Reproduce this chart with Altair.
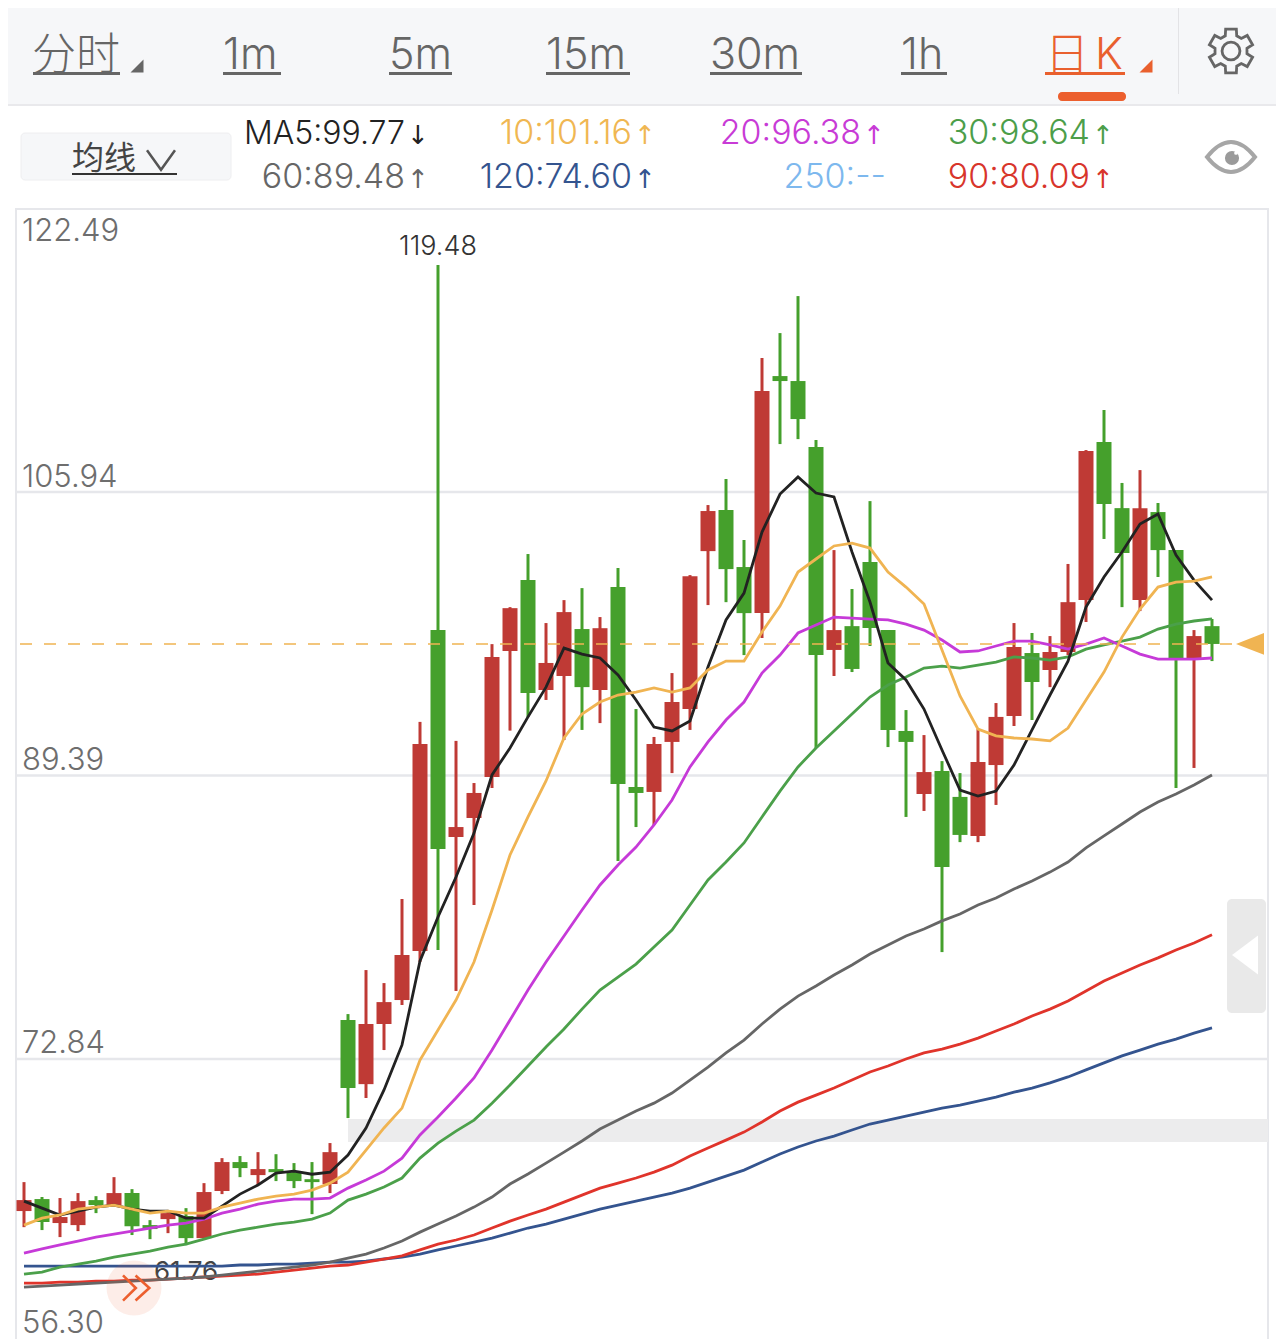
import math
import altair as alt
import pandas as pd

# ---------- values ----------
HIGH = [65.65,64.78,64.72,65.01,64.83,65.94,65.24,63.43,64.02,64.13,65.59,67.05,67.17,67.40,67.28,66.76,66.82,67.93,75.46,78.03,77.27,82.18,92.52,119.19,91.41,88.95,97.06,99.22,102.32,98.29,99.63,100.33,98.64,101.50,93.27,91.64,95.37,101.09,105.18,106.70,103.14,113.76,115.22,117.38,108.98,102.55,100.28,105.41,97.88,93.21,91.75,90.23,89.53,92.10,93.62,98.29,97.71,97.53,101.74,108.39,110.73,106.47,107.22,105.30,102.55,97.88,98.53]
LOW = [63.02,62.85,62.44,62.79,63.84,64.31,62.56,62.32,62.67,61.97,62.38,64.95,65.94,65.48,65.71,65.30,63.78,65.01,69.39,70.56,73.36,75.99,78.50,79.20,76.81,81.83,88.66,92.01,92.80,93.80,91.46,92.05,92.45,84.40,86.38,86.50,89.53,92.05,99.34,99.51,96.42,97.42,108.74,109.03,91.00,95.20,95.43,96.95,91.05,86.97,87.32,79.08,85.50,85.50,87.67,92.28,92.63,94.55,96.42,98.35,103.20,99.22,98.99,100.98,88.66,89.83,96.07]
BODY_TOP = [64.60,64.66,63.61,64.54,64.60,65.01,65.01,63.14,63.84,63.67,65.07,66.82,66.82,66.41,66.41,66.23,65.82,67.40,75.11,74.88,76.16,78.91,91.23,97.88,86.38,88.37,96.31,99.16,100.80,95.96,98.93,97.94,97.99,100.39,88.72,91.23,93.68,101.03,104.83,104.89,101.56,111.84,112.71,112.42,108.57,97.88,98.11,101.85,97.88,91.99,89.59,89.65,88.14,90.18,92.81,96.89,96.54,96.60,99.51,108.33,108.86,105.00,105.00,104.77,102.55,97.53,98.11]
BODY_BOTTOM = [63.96,63.32,63.26,63.14,64.31,64.31,63.08,62.91,63.49,62.38,62.38,65.13,66.47,66.06,66.23,65.71,65.65,65.54,71.14,71.37,74.88,76.28,79.14,85.10,85.80,86.91,89.30,96.66,94.21,94.38,95.20,94.55,94.38,88.89,88.37,88.43,91.35,93.27,102.49,101.44,98.87,98.87,112.42,110.20,96.42,96.72,95.61,98.00,92.05,91.35,88.31,84.05,85.92,85.86,90.00,92.86,94.85,95.55,96.60,99.63,105.24,102.38,99.63,102.55,96.25,96.25,97.07]
DOWN_DAYS = [1,4,6,7,9,12,14,15,16,18,23,28,31,33,34,39,40,42,43,44,46,47,48,49,51,52,56,60,61,63,64,66]

MA5 = [64.54,64.13,63.73,63.96,64.19,64.31,64.07,63.96,63.96,63.55,63.55,64.25,64.95,65.48,66.18,66.29,66.11,66.23,67.23,68.81,71.03,73.66,78.56,81.13,83.46,86.03,89.42,91.00,92.81,94.55,96.83,96.48,96.25,95.26,93.80,92.22,91.99,92.57,95.72,98.47,100.04,103.60,105.82,106.82,105.88,105.65,102.44,99.52,95.96,94.97,93.27,90.88,88.54,88.19,88.48,90.00,92.05,94.09,96.07,99.22,100.98,102.44,104.07,104.66,102.26,100.80,99.63]
MA10 = [63.14,63.55,63.73,64.07,64.19,64.31,64.07,63.84,63.96,63.84,63.84,64.19,64.42,64.66,64.83,64.95,65.18,65.59,66.23,67.52,68.81,69.97,72.78,74.53,76.28,78.50,81.54,84.75,86.97,89.07,91.58,92.98,93.68,94.09,94.26,94.50,94.26,94.50,95.55,96.07,96.07,97.77,99.28,101.27,102.03,102.79,102.96,102.67,101.27,100.39,99.40,96.72,94.03,92.10,91.70,91.58,91.52,91.41,92.16,93.80,95.43,97.47,99.11,100.39,100.68,100.74,100.98]
MA20 = [61.51,61.75,61.98,62.21,62.44,62.62,62.79,62.97,63.14,63.26,63.49,63.84,64.07,64.37,64.54,64.66,64.66,64.72,65.30,65.77,66.29,67.05,68.40,69.45,70.56,71.73,73.36,75.11,76.86,78.50,80.02,81.54,83.00,84.16,85.21,86.50,87.96,89.89,91.35,92.63,93.68,95.37,96.42,97.71,98.18,98.64,98.58,98.52,98.47,98.23,97.88,97.30,96.60,96.66,96.95,97.24,97.24,97.01,96.77,97.06,97.42,96.95,96.48,96.19,96.19,96.19,96.25]
MA30 = [60.28,60.40,60.69,60.86,61.04,61.27,61.45,61.62,61.86,62.03,62.32,62.62,62.85,63.02,63.20,63.32,63.49,63.84,64.60,64.95,65.36,65.89,67.05,67.93,68.63,69.27,70.26,71.32,72.43,73.54,74.59,75.75,76.86,77.62,78.38,79.38,80.37,81.83,83.29,84.34,85.45,86.97,88.48,89.89,91.00,91.99,92.98,93.97,94.67,95.14,95.66,95.78,95.66,95.84,96.01,96.31,96.25,96.13,96.31,96.77,97.01,97.24,97.47,97.94,98.23,98.41,98.53]
MA60 = [59.52,59.58,59.64,59.70,59.75,59.81,59.87,59.93,59.99,60.05,60.11,60.22,60.34,60.45,60.57,60.69,60.81,60.98,61.21,61.45,61.80,62.21,62.73,63.20,63.67,64.19,64.78,65.54,66.12,66.76,67.40,68.05,68.75,69.27,69.80,70.26,70.85,71.61,72.37,73.19,73.94,74.88,75.75,76.51,77.10,77.74,78.33,78.97,79.49,80.02,80.43,80.90,81.30,81.83,82.24,82.76,83.23,83.75,84.34,85.16,85.86,86.56,87.26,87.84,88.31,88.83,89.42]
MA90 = [59.75,59.75,59.81,59.81,59.87,59.87,59.93,59.93,59.99,60.05,60.11,60.16,60.22,60.28,60.40,60.51,60.63,60.75,60.81,60.98,61.16,61.34,61.69,62.03,62.27,62.56,62.97,63.37,63.73,64.07,64.48,64.89,65.30,65.59,65.89,66.23,66.64,67.17,67.64,68.10,68.57,69.16,69.80,70.32,70.73,71.14,71.61,72.08,72.43,72.84,73.19,73.42,73.71,74.06,74.47,74.88,75.35,75.75,76.22,76.81,77.39,77.86,78.33,78.74,79.20,79.61,80.09]
MA120 = [60.75,60.75,60.75,60.75,60.75,60.75,60.75,60.75,60.75,60.75,60.75,60.75,60.81,60.81,60.86,60.86,60.92,60.98,60.98,61.04,61.16,61.27,61.45,61.69,61.92,62.15,62.38,62.67,62.97,63.20,63.49,63.78,64.07,64.31,64.54,64.78,65.01,65.30,65.65,66.00,66.35,66.82,67.29,67.70,68.05,68.34,68.69,69.04,69.27,69.50,69.74,69.97,70.15,70.38,70.61,70.90,71.14,71.44,71.79,72.20,72.61,73.02,73.36,73.71,74.00,74.35,74.65]

PRICE_TICKS = [122.49, 105.94, 89.39, 72.84, 56.30]
LAST_PRICE = 97.07
BAND_LOW, BAND_HIGH = 67.99, 69.33
HIGH_NOTE = ("119.48", 23, 119.19)
LOW_NOTE = ("61.76", 9, 61.76)

TABS = ["分时", "1m", "5m", "15m", "30m", "1h", "日", "K"]
LEGEND_ROW1 = ["MA5:99.77", "10:101.16", "20:96.38", "30:98.64"]
LEGEND_ROW2 = ["60:89.48", "120:74.60", "250:--", "90:80.09"]
ARROWS_ROW1 = ["↓", "↑", "↑", "↑"]
ARROWS_ROW2 = ["↑", "↑", "", "↑"]
BUTTON_LABEL = "均线"

# ---------- scales ----------
OFF = 8
W, H = 1268, 1331
xs = alt.Scale(domain=[-0.8889, 69.5556], nice=False, zero=False, padding=0)
ys = alt.Scale(domain=[56.49, 134.20], nice=False, zero=False, padding=0)
LATIN = "Inter"
CJK = "Noto Sans CJK SC"
UI = "#666666"
ORANGE = "#e9602e"
TICK = "#6e6e6e"

n = len(HIGH)
candles = pd.DataFrame({
    "i": range(n), "high": HIGH, "low": LOW, "top": BODY_TOP, "bottom": BODY_BOTTOM,
    "dir": ["down" if i in DOWN_DAYS else "up" for i in range(n)],
})
dir_scale = alt.Scale(domain=["up", "down"], range=["#bf3a35", "#45a02c"])
X = alt.X("i:Q", scale=xs, axis=None)
Y = lambda f: alt.Y(f, scale=ys, axis=None)


def px(x, x2=None, y=None, y2=None):
    d = {"x": alt.value(x - OFF)}
    if x2 is not None:
        d["x2"] = alt.value(x2 - OFF)
    if y is not None:
        d["y"] = alt.value(y - OFF)
    if y2 is not None:
        d["y2"] = alt.value(y2 - OFF)
    return d


def box(x, x2, y, y2, color, **kw):
    return alt.Chart().mark_rect(color=color, **kw).encode(**px(x, x2, y, y2))


def txt(s, x, y, size, color, font=LATIN, align="left", **kw):
    return alt.Chart().mark_text(text=s, fontSize=size, color=color, font=font, align=align,
                                 baseline="alphabetic", **kw).encode(**px(x, y=y))


def icon(path, x, y, width, color=None, stroke=None, sw=2.0):
    kw = dict(shape=path, size=width * width, opacity=1)
    if color:
        kw.update(filled=True, color=color, strokeWidth=0)
    else:
        kw.update(filled=False, color=stroke, strokeWidth=sw)
    return alt.Chart().mark_point(**kw).encode(**px(x, y=y))


def dot(x, y, size, color, filled=True, sw=0, opacity=1):
    return alt.Chart().mark_point(shape="circle", size=size, filled=filled, color=color,
                                  strokeWidth=sw, opacity=opacity).encode(**px(x, y=y))


layers = []

# header
layers.append(box(8, 1276, 8, 104, "#f6f7f9"))
layers.append(box(8, 1276, 104, 106, "#e9e9ec"))
tab_geo = [(33, 120), (223, 281), (389, 452), (546, 630), (710, 802), (901, 947)]
for label, (a, b) in zip(TABS[:6], tab_geo):
    if label == TABS[0]:
        layers.append(txt(label, a - 1, 70, 44, UI, font=CJK, fontWeight=300))
    else:
        layers.append(txt(label, a, 69, 43, UI, fontWeight=300))
    layers.append(box(a, b, 72, 75, UI))
layers.append(txt(TABS[6], 1045, 70, 44, ORANGE, font=CJK, fontWeight=300))
layers.append(txt(TABS[7], 1095, 69, 43, ORANGE, fontWeight=300))
layers.append(box(1045, 1125, 72, 75, ORANGE))
corner = "M1,-1L1,1L-1,1Z"
layers.append(icon(corner, 137, 66, 13, color=UI))
layers.append(icon(corner, 1146, 66, 13, color=ORANGE))
layers.append(box(1058, 1126, 92, 101, "#ec5f2e", cornerRadius=4))
layers.append(box(1178, 1179, 8, 94, "#e3e3e6"))

# gear: six teeth, top and bottom and four diagonals
pts = []
for k in range(6):
    c = -math.pi / 2 + k * math.pi / 3
    for r, da in [(0.72, -0.36), (1.0, -0.24), (1.0, 0.24), (0.72, 0.36)]:
        pts.append((r * math.cos(c + da), r * math.sin(c + da)))
gear = "M" + "L".join(f"{a:.3f},{b:.3f}" for a, b in pts) + "Z"
layers.append(icon(gear, 1231, 51, 45, stroke="#666666", sw=2.8))
layers.append(dot(1231, 51, 320, "#666666", filled=False, sw=2.8))

# legend row
layers.append(box(21, 231, 133, 180, "#f6f7f9", cornerRadius=4, stroke="#eeeef0"))
layers.append(txt(BUTTON_LABEL, 72, 169, 32, "#444444", font=CJK))
layers.append(box(72, 177, 173, 175, "#333333"))
layers.append(icon("M-1,-0.7L0,0.7L1,-0.7", 161, 160, 28, stroke="#555555", sw=2.5))
colors1 = ["#222222", "#f0b752", "#c83bd6", "#4c9e4a"]
colors2 = ["#666666", "#34548f", "#7db8ee", "#d8352b"]
rights = [405, 632, 861, 1090]
for j, (s, a, c, r) in enumerate(zip(LEGEND_ROW1, ARROWS_ROW1, colors1, rights)):
    layers.append(txt(s, r, 144, 32 if j == 0 else 34, c, align="right", fontWeight=300))
    layers.append(txt(a, r + 2, 144, 26, c, font="DejaVu Sans"))
for s, a, c, r in zip(LEGEND_ROW2, ARROWS_ROW2, colors2, rights):
    if a:
        layers.append(txt(s, r, 188, 34, c, align="right", fontWeight=300))
        layers.append(txt(a, r + 2, 188, 26, c, font="DejaVu Sans"))
    else:
        layers.append(txt(s, r + 25, 188, 34, c, align="right", fontWeight=300))
# eye
layers.append(icon("M-1,0Q0,-1.25,1,0Q0,1.25,-1,0Z", 1231, 157, 48, stroke="#a6a6a6", sw=4))
layers.append(dot(1232, 158, 200, "#9a9a9a"))
layers.append(dot(1236, 153, 14, "#ffffff"))

# frame and grid
GRID = "#e6e7eb"
layers.append(box(16, 1268, 208, 210, GRID))
layers.append(box(15, 17, 208, 1339, GRID))
layers.append(box(1267, 1269, 208, 1339, GRID))
grid_df = pd.DataFrame({"p": PRICE_TICKS[1:4]})
layers.append(alt.Chart(grid_df).mark_rule(color=GRID, strokeWidth=2.5).encode(
    y=Y("p:Q"), x=alt.value(16 - OFF), x2=alt.value(1268 - OFF)))

# band
band_df = pd.DataFrame({"lo": [BAND_LOW], "hi": [BAND_HIGH]})
layers.append(alt.Chart(band_df).mark_rect(color="#ececed").encode(
    y=Y("hi:Q"), y2="lo:Q", x=alt.value(348 - OFF), x2=alt.value(1268 - OFF)))

# tick labels
tick_df = pd.DataFrame({"p": PRICE_TICKS[1:4], "t": [f"{v:.2f}" for v in PRICE_TICKS[1:4]]})
layers.append(alt.Chart(tick_df).mark_text(fontSize=31, color=TICK, font=LATIN, fontWeight=300, align="left", baseline="alphabetic", dy=-5.5).encode(
    y=Y("p:Q"), x=alt.value(22 - OFF), text="t:N"))
layers.append(txt(f"{PRICE_TICKS[0]:.2f}", 22, 241, 31, TICK, fontWeight=300))
layers.append(txt(f"{PRICE_TICKS[4]:.2f}", 22, 1333, 31, TICK, fontWeight=300))

# low note lies under the lines
note_df = pd.DataFrame({"i": [LOW_NOTE[1]], "p": [LOW_NOTE[2]], "t": [LOW_NOTE[0]]})
layers.append(alt.Chart(note_df).mark_text(fontSize=26, color="#444444", font=LATIN, dy=31, baseline="alphabetic").encode(
    x=X, y=Y("p:Q"), text="t:N"))

# candles
base = alt.Chart(candles)
color = alt.Color("dir:N", scale=dir_scale, legend=None)
layers.append(base.mark_rule(strokeWidth=3).encode(x=X, y=Y("high:Q"), y2="low:Q", color=color))
layers.append(base.mark_bar(size=15).encode(x=X, y=Y("top:Q"), y2="bottom:Q", color=color))

# high note
high_df = pd.DataFrame({"i": [HIGH_NOTE[1]], "p": [HIGH_NOTE[2]], "t": [HIGH_NOTE[0]]})
layers.append(alt.Chart(high_df).mark_text(fontSize=27, color="#333333", font=LATIN, fontWeight=300, dy=-10, baseline="alphabetic").encode(
    x=X, y=Y("p:Q"), text="t:N"))

# moving averages
series = [(MA120, "#34548f"), (MA90, "#e0342b"), (MA60, "#666666"), (MA30, "#4ba04a"),
          (MA20, "#c63ad8"), (MA5, "#222222"), (MA10, "#f0b452")]
for vals, c in series:
    df = pd.DataFrame({"i": range(n), "v": vals})
    layers.append(alt.Chart(df).mark_line(color=c, strokeWidth=2.8).encode(x=X, y=Y("v:Q")))

# last price
last_df = pd.DataFrame({"p": [LAST_PRICE]})
layers.append(alt.Chart(last_df).mark_rule(color="#f0b452", strokeWidth=1.6, strokeDash=[12, 12]).encode(
    y=Y("p:Q"), x=alt.value(20 - OFF), x2=alt.value(1236 - OFF)))
layers.append(alt.Chart(last_df).mark_point(shape="M-1,0L1,-0.78L1,0.78Z", size=784, filled=True, color="#f0b452", opacity=1, strokeWidth=0).encode(
    y=Y("p:Q"), x=alt.value(1250 - OFF)))

# handles
layers.append(box(1227, 1266, 899, 1013, "#e9e9e9", cornerRadius=5))
layers.append(icon("M-1,0L1,-1.5L1,1.5Z", 1245, 955, 26, color="#ffffff"))
layers.append(dot(134, 1288, 3020, "#ec5f2e", opacity=0.11))
chev = "M-1,-0.93L-0.05,0L-1,0.93M-0.07,-0.93L0.95,0L-0.07,0.93"
layers.append(icon(chev, 136.5, 1288, 27, stroke="#ec5f2e", sw=2.6))

chart = alt.layer(*layers).properties(
    width=W, height=H, padding=0, autosize=alt.AutoSizeParams(type="none"), background="#ffffff"
).configure_view(stroke=None)

chart.save("out.html", embed_options={"renderer": "svg", "actions": False})
